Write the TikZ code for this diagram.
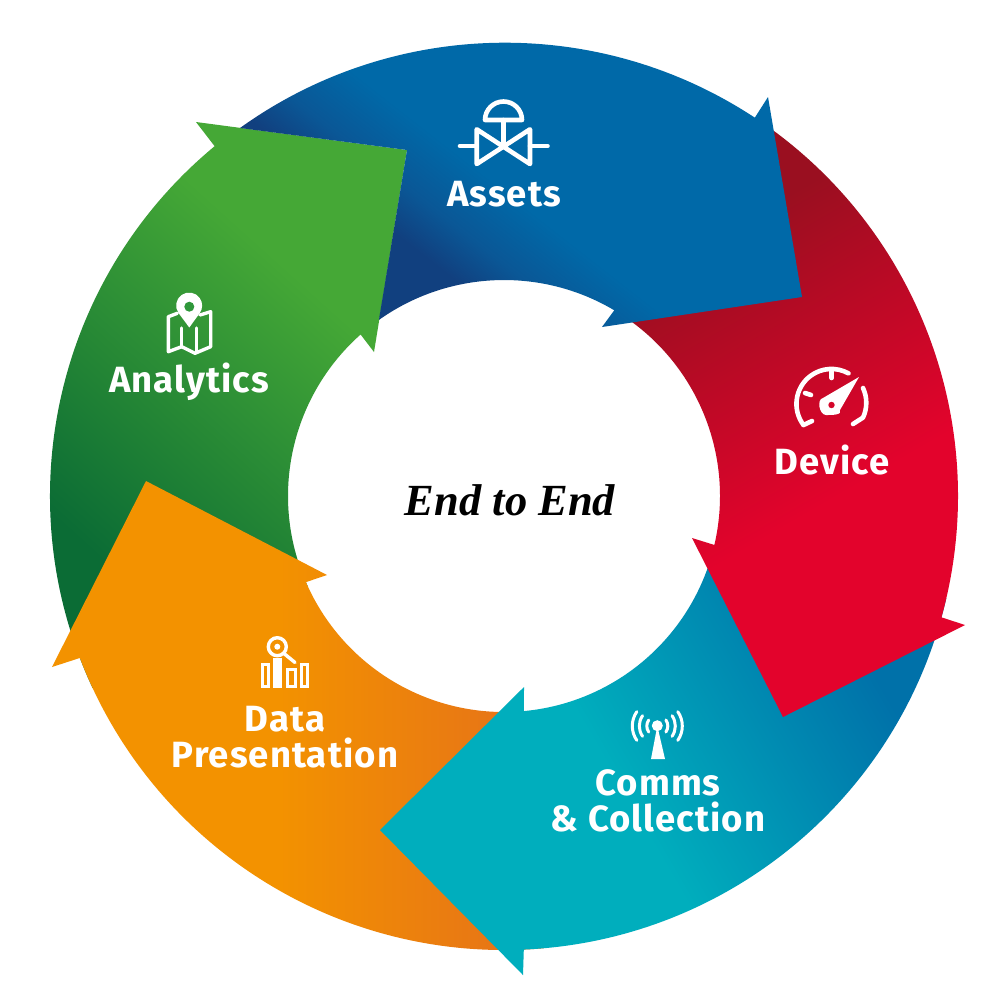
\documentclass[tikz,border=0pt]{standalone}
\usepackage{fontspec}
\setmainfont{Liberation Serif}
\newfontfamily\labfont[LetterSpace=3]{Fira Sans}
\usetikzlibrary{calc}
\definecolor{bluemain}{HTML}{0069A8}
\definecolor{bluemid}{HTML}{0A5796}
\definecolor{bluedark}{HTML}{11407F}
\definecolor{reddark}{HTML}{9A0F20}
\definecolor{redmain}{HTML}{E3032C}
\definecolor{tealmain}{HTML}{00AEBD}
\definecolor{tealblue}{HTML}{0071A9}
\definecolor{orangemain}{HTML}{F39200}
\definecolor{orangedark}{HTML}{E5701A}
\definecolor{greenlight}{HTML}{45A836}
\definecolor{greendark}{HTML}{0B6C35}
\definecolor{greenhole}{HTML}{2F983B}
\definecolor{redhole}{HTML}{D5062A}
\pgfdeclarehorizontalshading{gblue}{100bp}{color(0bp)=(bluedark); color(35bp)=(bluedark); color(40bp)=(bluemid); color(47bp)=(bluemain); color(100bp)=(bluemain)}
\pgfdeclarehorizontalshading{gred}{100bp}{color(0bp)=(reddark); color(30bp)=(reddark); color(58bp)=(redmain); color(100bp)=(redmain)}
\pgfdeclarehorizontalshading{gteal}{100bp}{color(0bp)=(tealmain); color(45bp)=(tealmain); color(72bp)=(tealblue); color(100bp)=(tealblue)}
\pgfdeclarehorizontalshading{gorange}{100bp}{color(0bp)=(orangemain); color(48bp)=(orangemain); color(75bp)=(orangedark); color(100bp)=(orangedark)}
\pgfdeclarehorizontalshading{ggreen}{100bp}{color(0bp)=(greendark); color(31bp)=(greendark); color(66bp)=(greenlight); color(100bp)=(greenlight)}
\tikzset{
  lab/.style={text=white,font=\labfont\bfseries\fontsize{36.5}{36}\selectfont,inner sep=0pt,align=center},
  ic/.style={draw=white,line width=4.6pt,line join=round,line cap=round},
  icthin/.style={draw=white,line width=3.4pt,line join=round,line cap=round},
  icwave/.style={draw=white,line width=3pt,line cap=round},
  icbar/.style={draw=white,line width=3pt}
}
\begin{document}
\begin{tikzpicture}[x=1pt,y=-1pt]
\useasboundingbox (0,0) rectangle (1006,1005);
\fill[white] (0,0) rectangle (1006,1005);
\coordinate (C) at (504,496);
% green
\shade[shading=ggreen,shading angle=48]
  ($(C)+(205:454pt)$) arc[start angle=205,end angle=129.6,radius=454pt]
  -- (196,122) -- (407,150) -- (374,352) -- ($(C)+(131.6:216pt)$)
  arc[start angle=131.6,end angle=205,radius=216pt] -- cycle;
% orange
\shade[shading=gorange,shading angle=0]
  ($(C)+(-85:454pt)$) arc[start angle=-85,end angle=-159.1,radius=454pt]
  -- (52,667) -- (146,481) -- (327,575) -- ($(C)+(203.5:216pt)$)
  arc[start angle=203.5,end angle=275,radius=216pt] -- cycle;
% teal
\shade[shading=gteal,shading angle=30]
  ($(C)+(-13:454pt)$) arc[start angle=-13,end angle=-87.5,radius=454pt]
  -- (523,975) -- (380,830) -- (524,687) -- ($(C)+(-84.7:216pt)$)
  arc[start angle=-84.7,end angle=-13,radius=216pt] -- cycle;
% red
\shade[shading=gred,shading angle=-60]
  ($(C)+(56:454pt)$) arc[start angle=56,end angle=-15.5,radius=454pt]
  -- (965,625) -- (783,717) -- (692,538) -- ($(C)+(-13.1:216pt)$)
  arc[start angle=-13.1,end angle=56,radius=216pt] -- cycle;
% blue
\shade[shading=gblue,shading angle=52]
  (240,128) arc[start angle=125.7,end angle=56.6,radius=454pt]
  -- (768,97) -- (802,297) -- (602,327) -- ($(C)+(59.3:216pt)$)
  arc[start angle=59.3,end angle=125.4,radius=216pt]
  -- (407,150) -- cycle;
% labels
\node[text=black,font=\bfseries\itshape\fontsize{44.5}{48}\selectfont,inner sep=0pt] (title) at (510,500) {End to End};
\node[lab] (assets) at (504,194) {Assets};
\node[lab] (device) at (832,460) {Device};
\node[lab] (comms) at (658,801) {Comms\\\& Collection};
\node[lab] (data) at (285,737) {Data\\Presentation};
\node[lab] (analytics) at (189,382) {Analytics};
% valve icon
\draw[ic] (485,120) arc[start angle=180,end angle=0,radius=18.5pt] -- cycle;
\draw[ic] (503.5,120) -- (503.5,147);
\draw[ic] (476.7,129.3) -- (530,164) -- (530,129.3) -- (476.7,164) -- cycle;
\draw[ic] (460,146) -- (476.7,146) (530,146) -- (547.5,146);
% gauge icon
\draw[ic] (803.5,425) -- (812,421);
\draw[ic] (803.5,425) arc[start angle=217,end angle=61,radius=35pt];
\draw[ic] (863,388) arc[start angle=25,end angle=-25,radius=35pt] -- (853,424);
\draw[ic] (831.7,371) -- (831.7,378);
\draw[ic] (805,393) -- (811,395);
\fill[white] (859,377) -- (840,410) to[out=-60,in=0] (826,415) to[out=180,in=190] (823,398) -- cycle;
\fill[redhole] (831.5,405) circle[radius=3.2pt];
% antenna icon
\fill[white] (657.3,725.7) circle[radius=5.5pt];
\fill[white] (657.3,726) -- (651,759) -- (665,759) -- cycle;
\foreach \r in {10.5,18,25}{
  \draw[icwave] ($(657.3,726)+(145:\r pt)$) arc[start angle=145,end angle=215,radius=\r pt];
  \draw[icwave] ($(657.3,726)+(-35:\r pt)$) arc[start angle=-35,end angle=35,radius=\r pt];
}
% data icon
\draw[icthin] (277.3,646.7) circle[radius=9pt];
\fill[white] (277.3,646.7) circle[radius=3pt];
\draw[icthin] (284,653.5) -- (295,662.5);
\draw[icbar] (262,664.5) rectangle (268,686);
\fill[white] (273.3,658.3) rectangle (281.7,687.5);
\draw[icbar] (287.5,669) rectangle (295.5,686);
\draw[icbar] (301,664.5) rectangle (307,686);
% map icon
\draw[icthin] (177.3,313.3) -- (168.3,316.7) -- (168.3,351.7) -- (181.7,346.7) -- (195,353.3) -- (210.7,346.7) -- (210.7,311.7) -- (200,315);
\draw[icthin] (181.7,328) -- (181.7,346.7) (196.7,328) -- (196.7,352.5);
\fill[white] (189.3,327.5) -- (178.5,313) arc[start angle=215,end angle=-35,radius=13pt] -- cycle;
\fill[greenhole] (189.3,306.7) circle[radius=5pt];
\end{tikzpicture}
\end{document}
